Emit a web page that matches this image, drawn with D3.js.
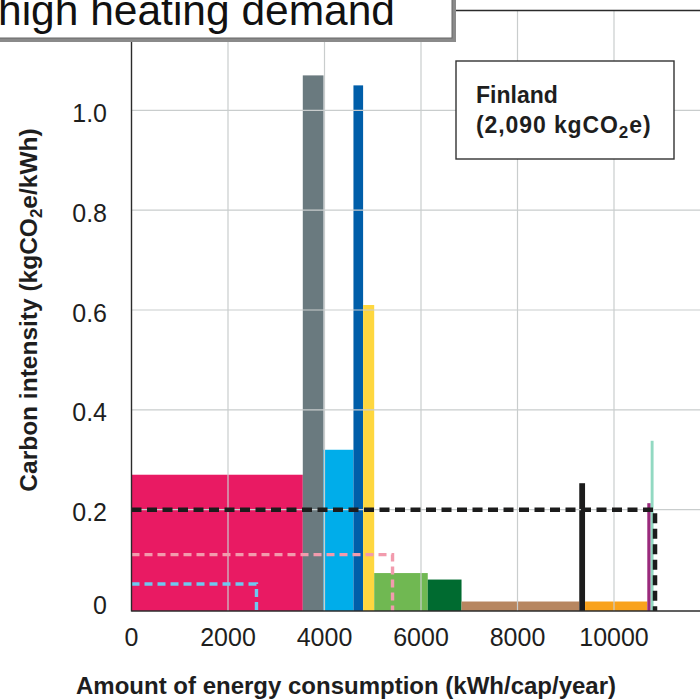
<!DOCTYPE html>
<html>
<head>
<meta charset="utf-8">
<script src="https://cdn.jsdelivr.net/npm/d3@7"></script>
<style>
  html, body { margin: 0; padding: 0; background: #fff; }
  svg { display: block; font-family: "Liberation Sans", Arial, sans-serif; }
</style>
</head>
<body>
<svg id="chart" width="700" height="700"></svg>
<script>
// ---------------- data ----------------
const segments = ["Segment 1", "Segment 2", "Segment 3", "Segment 4", "Segment 5", "Segment 6",
                  "Segment 7", "Segment 8", "Segment 9", "Segment 10", "Segment 11", "Segment 12"];
const energyKWh = [3550, 430, 620, 200, 230, 1110, 700, 2440, 120, 1290, 70, 60];   // width of each bar (kWh/cap/year)
const intensity = [0.27, 1.07, 0.32, 1.05, 0.61, 0.073, 0.06, 0.016, 0.253, 0.016, 0.213, 0.338]; // kgCO2e/kWh
const segmentColors = ["#e91a63", "#6a7a7f", "#00adea", "#005ea9", "#fed73f", "#70b852",
                       "#006b30", "#b78660", "#1c1c1c", "#f9a21c", "#9a2a7c", "#92d9c2"];

// dashed reference boxes: total energy and average intensity
const refNames = ["Finland", "Ref 2", "Ref 3"];
const refEnergy = [10850, 5410, 2590];
const refIntensity = [0.2, 0.11, 0.051];
const refColors = ["#1c1c1c", "#f29bad", "#6fc8f0"];

const xTicks = [0, 2000, 4000, 6000, 8000, 10000];
const yTicks = [0, 0.2, 0.4, 0.6, 0.8, 1.0];
const yTickLabels = ["0", "0.2", "0.4", "0.6", "0.8", "1.0"];

// ---------------- layout ----------------
const svg = d3.select("#chart");
const x = d3.scaleLinear().domain([0, 12000]).range([131.5, 131.5 + 12000 * 0.04825]);
const y = d3.scaleLinear().domain([0, 1.2]).range([609.5, 10.5]);

// cumulative starts
const starts = [];
energyKWh.reduce((acc, w, i) => { starts[i] = acc; return acc + w; }, 0);
const bars = segments.map((s, i) => ({ name: s, x0: starts[i], x1: starts[i] + energyKWh[i], v: intensity[i], c: segmentColors[i] }));

// bars
svg.append("g").selectAll("rect").data(bars).join("rect")
  .attr("x", d => x(d.x0))
  .attr("width", d => x(d.x1) - x(d.x0))
  .attr("y", d => y(d.v))
  .attr("height", d => 611 - y(d.v))
  .attr("fill", d => d.c);

// grid lines (drawn on top of the bars, as in the reference)
const grid = svg.append("g").attr("stroke", "#c9cdcd").attr("stroke-width", 1.2);
grid.selectAll("line.v").data(xTicks.filter(t => t > 0)).join("line")
  .attr("x1", d => x(d)).attr("x2", d => x(d))
  .attr("y1", y(1.2)).attr("y2", 611);
grid.selectAll("line.h").data(yTicks.filter(t => t > 0)).join("line")
  .attr("x1", x(0)).attr("x2", 710)
  .attr("y1", d => y(d)).attr("y2", d => y(d));

// dashed reference boxes
const refs = refNames.map((n, i) => ({ name: n, e: refEnergy[i], v: refIntensity[i], c: refColors[i] }));
svg.append("g").selectAll("path").data(refs.slice().reverse()).join("path")
  .attr("d", d => `M${x(0)},${y(d.v)}H${x(d.e)}V611`)
  .attr("fill", "none")
  .attr("stroke", d => d.c)
  .attr("stroke-width", d => d.name === "Finland" ? 4.5 : 3.4)
  .attr("stroke-dasharray", d => d.name === "Finland" ? "10,5.5" : "8,5");

// frame / axes
const frame = svg.append("g").attr("stroke", "#2b2b2b").attr("fill", "none");
frame.append("line").attr("x1", x(0)).attr("x2", x(0)).attr("y1", y(1.2)).attr("y2", 611.5).attr("stroke-width", 1.4);
frame.append("line").attr("x1", x(0)).attr("x2", 710).attr("y1", 611).attr("y2", 611).attr("stroke-width", 1.6);
frame.append("line").attr("x1", x(0)).attr("x2", 710).attr("y1", y(1.2)).attr("y2", y(1.2)).attr("stroke-width", 1.6);

// tick labels
svg.append("g").selectAll("text").data(xTicks).join("text")
  .attr("x", d => x(d)).attr("y", 646)
  .attr("text-anchor", "middle")
  .attr("font-size", 25).attr("fill", "#1e1e1e")
  .text(d => d);
svg.append("g").selectAll("text").data(yTicks).join("text")
  .attr("x", 107)
  .attr("y", d => y(d) + (d === 0 ? -4.5 : 2.5))
  .attr("dy", "0.36em")
  .attr("text-anchor", "end")
  .attr("font-size", 25).attr("fill", "#1e1e1e")
  .text((d, i) => yTickLabels[i]);

// axis titles
svg.append("text")
  .attr("x", 76).attr("y", 694)
  .attr("font-size", 24).attr("font-weight", "bold").attr("fill", "#1e1e1e")
  .text("Amount of energy consumption (kWh/cap/year)");

const yt = svg.append("text")
  .attr("transform", "translate(37,310) rotate(-90)")
  .attr("text-anchor", "middle")
  .attr("font-size", 24.5).attr("font-weight", "bold").attr("fill", "#1e1e1e");
yt.append("tspan").text("Carbon intensity (kgCO");
yt.append("tspan").attr("dy", 5).attr("font-size", 17).text("2");
yt.append("tspan").attr("dy", -5).text("e/kWh)");

// legend box
svg.append("rect").attr("x", 456).attr("y", 61).attr("width", 218).attr("height", 98)
  .attr("fill", "#fff").attr("stroke", "#333").attr("stroke-width", 1.4);
svg.append("text").attr("x", 476).attr("y", 103)
  .attr("font-size", 23).attr("font-weight", "bold").attr("fill", "#1e1e1e").text("Finland");
const lt = svg.append("text").attr("x", 476).attr("y", 133)
  .attr("font-size", 23).attr("font-weight", "bold").attr("fill", "#1e1e1e")
  .attr("letter-spacing", 0.9);
lt.append("tspan").text("(2,090 kgCO");
lt.append("tspan").attr("dy", 5).attr("font-size", 17).text("2");
lt.append("tspan").attr("dy", -5).text("e)");

// title box (cropped at top-left)
svg.append("rect").attr("x", -10).attr("y", -10).attr("width", 466).attr("height", 52).attr("fill", "#8a8a8a");
svg.append("rect").attr("x", -10).attr("y", -10).attr("width", 462).attr("height", 48)
  .attr("fill", "#fff").attr("stroke", "#666").attr("stroke-width", 1);
svg.append("text").attr("x", 395).attr("y", 25)
  .attr("text-anchor", "end")
  .attr("font-size", 42.5).attr("fill", "#111")
  .text("high heating demand");
</script>
</body>
</html>
